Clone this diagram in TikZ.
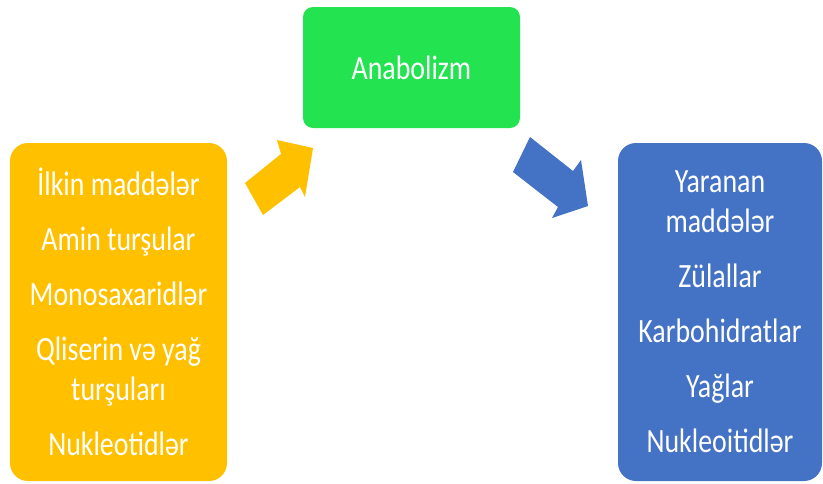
\documentclass[tikz,border=0pt]{standalone}
\usepackage{fontspec}
\setmainfont{Carlito}[FakeStretch=0.82]
\usepackage{tikz}
\definecolor{ambergold}{RGB}{255,192,0}
\definecolor{leafgreen}{RGB}{35,227,80}
\definecolor{steelblue}{RGB}{68,114,196}
\usetikzlibrary{positioning}

\tikzset{stagebox/.style={rounded corners=18pt, text=white, align=center, inner sep=0pt,
    font=\fontsize{34}{40}\selectfont}}

\begin{document}
\begin{tikzpicture}[x=1pt,y=-1pt]
           \useasboundingbox (0,0) rectangle (823,483);

           % top box
           \node [stagebox, fill=leafgreen, rounded corners=10pt, minimum width=217pt, minimum height=121pt] (anabolizm) at (411.5,67.5) {Anabolizm};

           % starting substances
           \node [stagebox, fill=ambergold, minimum width=217pt, minimum height=338pt] (ilkin) at (118.5,312)
                {İlkin maddələr\\[15pt]Amin turşular\\[15pt]Monosaxaridlər\\[15pt]Qliserin və yağ\\turşuları\\[15pt]Nukleotidlər};

           % products
           \node [stagebox, fill=steelblue, minimum width=204pt, minimum height=338pt] (yaranan) at (720,312)
                {Yaranan\\maddələr\\[15pt]Zülallar\\[15pt]Karbohidratlar\\[15pt]Yağlar\\[15pt]Nukleoitidlər};

           % block arrows
           \fill [ambergold] (245,183) -- (281,154) -- (277,140) -- (313,148) -- (305,197) -- (300,187) -- (263,215) -- cycle;
           \fill [steelblue] (530,137) -- (573,171) -- (581,160) -- (588,206) -- (552,218) -- (558,207) -- (513,172) -- cycle;

\end{tikzpicture}
\end{document}
